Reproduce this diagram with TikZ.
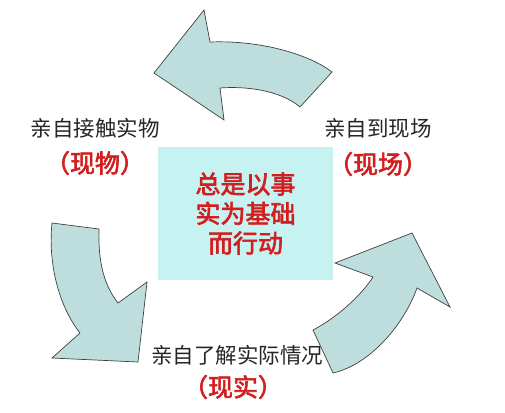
\documentclass[tikz,border=0pt]{standalone}
\usepackage{fontspec}
\usepackage{tikz}
\newfontfamily\cjk[AutoFakeBold=2.5]{Noto Sans CJK SC}
\definecolor{arrowfill}{RGB}{190,222,222}
\definecolor{boxfill}{RGB}{198,242,242}
\definecolor{labelred}{RGB}{210,30,30}

\begin{document}
\begin{tikzpicture}[x=1pt,y=-1pt,
    bigarrow/.style={draw=black!75,fill=arrowfill,line width=0.7pt,line join=miter},
    stage/.style={font=\cjk\fontsize{21.5}{24}\selectfont,text=black!85,inner sep=0pt},
    tag/.style={font=\cjk\bfseries\fontsize{25}{28}\selectfont,text=labelred,inner sep=0pt}]
\useasboundingbox (0,0) rectangle (505,412);
% centre box
\node[fill=boxfill,minimum width=175pt,minimum height=133pt,align=center,
      font=\cjk\bfseries\fontsize{25}{29.5}\selectfont,text=labelred] (core) at (245.5,213.5)
  {总是以事\\实为基础\\而行动};
% top arrow
\draw[bigarrow] (332,72) .. controls (310,55) and (262,40) .. (210,42)
  -- (204,10) -- (154,73) -- (224,120) -- (220,88)
  .. controls (245,86) and (280,90) .. (300,107) -- cycle;
% left arrow
\draw[bigarrow] (52,223) .. controls (48,262) and (58,305) .. (80,333)
  -- (52,358) -- (138,362) -- (147,282) -- (118,303)
  .. controls (104,285) and (98,262) .. (99,229) -- cycle;
% right arrow
\draw[bigarrow] (333,373) .. controls (372,364) and (405,322) .. (417,288)
  -- (450,307) -- (412,233) -- (335,263) -- (373,277)
  .. controls (360,297) and (336,318) .. (313,330) -- cycle;
% labels
\node[stage] (touch) at (95,128) {亲自接触实物};
\node[tag] (touchtag) at (95,163) {（现物）};
\node[stage] (site) at (378,128) {亲自到现场};
\node[tag] (sitetag) at (378,164) {（现场）};
\node[stage] (fact) at (237,355) {亲自了解实际情况};
\node[tag] (facttag) at (233,387) {（现实）};
\end{tikzpicture}
\end{document}
